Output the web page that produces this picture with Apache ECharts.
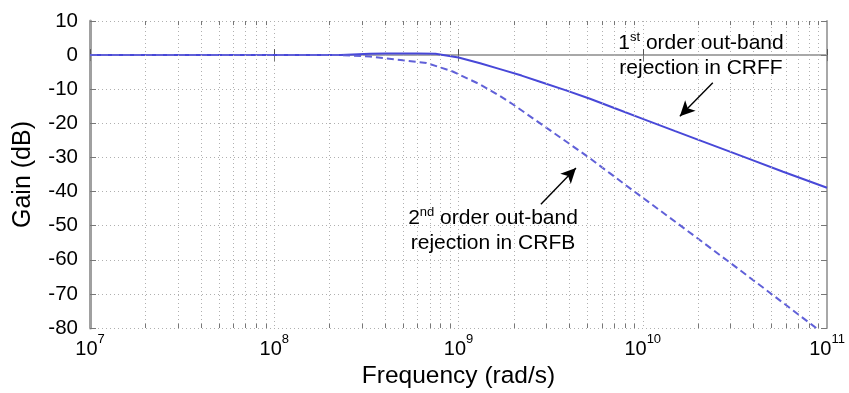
<!DOCTYPE html>
<html>
<head>
<meta charset="utf-8">
<script src="https://cdn.jsdelivr.net/npm/echarts@6/dist/echarts.min.js"></script>
<style>
html,body{margin:0;padding:0;background:#fff;}
#c{width:849px;height:393px;}
</style>
</head>
<body>
<div id="c"></div>
<script>
// ---- data ----
const freqSolid = [1e7, 2.3e8, 3.3e8, 4e8, 6e8, 7.5e8, 1e9, 1.31e9, 1.68e9, 2.2e9, 2.77e9, 3.87e9, 5.17e9, 7e9, 1e10, 1.5e10, 2.04e10, 2.97e10, 3.81e10, 5.78e10, 1e11];
const gainSolid = [0, 0, 0.4, 0.5, 0.5, 0.4, -0.7, -2.4, -4.1, -6.0, -7.8, -10.4, -12.8, -15.5, -18.7, -22.3, -25.0, -28.3, -30.5, -34.2, -38.9];
const freqDashed = [1e7, 2.3e8, 3.3e8, 5e8, 6.7e8, 9.3e8, 1.31e9, 1.68e9, 1.97e9, 3.02e9, 4.98e9, 6.62e9, 8.5e9, 1.35e10, 2.04e10, 3.09e10, 4.69e10, 8.4e10, 8.8e10];
const gainDashed = [0, 0, -0.4, -1.5, -2.3, -4.8, -8.6, -12.0, -14.4, -21.4, -29.6, -34.6, -39.0, -47.0, -54.2, -61.5, -68.9, -79.3, -80.1];
const decades = [1e7, 1e8, 1e9, 1e10, 1e11];
const minorMult = [2, 3, 4, 5, 6, 7, 8, 9];
const yMin = -80, yMax = 10, yStep = 10;
const arrow1 = [[2.4e10, -8.1], [1.59e10, -17.9]];
const arrow2 = [[2.8e9, -43.7], [4.34e9, -33.1]];

const FONT = 'Liberation Sans, Arial, Helvetica, sans-serif';
const gridCol = '#b0b0b0';

const minorVals = [];
for (let d = 0; d < decades.length - 1; d++) {
  for (const m of minorMult) minorVals.push(m * decades[d]);
}
const gridLines = minorVals.map(v => ({xAxis: v}));
const tickLen = 1.2; // dB
const tickLines = [];
for (const v of minorVals) {
  tickLines.push([{coord: [v, yMin]}, {coord: [v, yMin + tickLen]}]);
  tickLines.push([{coord: [v, yMax]}, {coord: [v, yMax - tickLen]}]);
}

const annRich = {
  n: {fontFamily: FONT, fontSize: 21, color: '#000', lineHeight: 25},
  s: {fontFamily: FONT, fontSize: 13, color: '#000', lineHeight: 25, verticalAlign: 'top', padding: [0, 0, 10, 0]}
};

const chart = echarts.init(document.getElementById('c'), null, {renderer: 'canvas'});
chart.setOption({
  animation: false,
  backgroundColor: '#fff',
  grid: {left: 90, right: 22, top: 21, bottom: 65, containLabel: false, outerBoundsMode: 'none'},
  xAxis: [{
    type: 'log', logBase: 10, min: 1e7, max: 1e11, splitNumber: 4,
    name: 'Frequency (rad/s)', nameLocation: 'middle', nameGap: 32,
    nameTextStyle: {fontFamily: FONT, fontSize: 24.5, color: '#000'},
    axisLine: {lineStyle: {color: '#555', width: 1.5}},
    axisTick: {inside: true, length: 6, lineStyle: {color: '#555'}},
    axisLabel: {
      margin: 5,
      formatter: v => '{b|10}{e|' + Math.round(Math.log10(v)) + '}',
      rich: {
        b: {fontFamily: FONT, fontSize: 20, color: '#000', verticalAlign: 'bottom', lineHeight: 26},
        e: {fontFamily: FONT, fontSize: 13, color: '#000', verticalAlign: 'top', lineHeight: 26, padding: [0, 0, 10, 0]}
      }
    },
    splitLine: {show: true, lineStyle: {color: gridCol, type: [1, 3], width: 1}}
  }, {
    type: 'log', logBase: 10, min: 1e7, max: 1e11, splitNumber: 4, position: 'top',
    axisLine: {lineStyle: {color: '#a8a8a8', width: 2}},
    axisTick: {inside: true, length: 6, lineStyle: {color: '#777'}},
    axisLabel: {show: false}, splitLine: {show: false}
  }],
  yAxis: [{
    type: 'value', min: yMin, max: yMax, interval: yStep,
    name: 'Gain (dB)', nameLocation: 'middle', nameGap: 54, nameRotate: 90,
    nameTextStyle: {fontFamily: FONT, fontSize: 25, color: '#000'},
    axisLine: {show: true, lineStyle: {color: '#a0a0a0', width: 3}},
    axisTick: {show: true, inside: true, length: 6, lineStyle: {color: '#777'}},
    axisLabel: {fontFamily: FONT, fontSize: 20.5, color: '#000', margin: 12},
    splitLine: {show: true, lineStyle: {color: gridCol, type: [1, 3], width: 1}}
  }, {
    type: 'value', min: yMin, max: yMax, interval: yStep, position: 'right',
    axisLine: {show: true, lineStyle: {color: '#a8a8a8', width: 2}},
    axisTick: {show: true, inside: true, length: 6, lineStyle: {color: '#777'}},
    axisLabel: {show: false}, splitLine: {show: false}
  }],
  series: [{
    type: 'line', name: 'grid', data: [], silent: true,
    markLine: {
      silent: true, symbol: ['none', 'none'], label: {show: false},
      lineStyle: {color: gridCol, type: [1, 3], width: 1},
      data: gridLines, animation: false
    }
  }, {
    type: 'line', name: 'ticks', data: [], silent: true,
    markLine: {
      silent: true, symbol: ['none', 'none'], label: {show: false},
      lineStyle: {color: '#777', type: 'solid', width: 1},
      data: tickLines, animation: false
    }
  }, {
    type: 'line', name: 'CRFF', showSymbol: false, symbol: 'none', smooth: false,
    data: freqSolid.map((f, i) => [f, gainSolid[i]]),
    lineStyle: {color: '#4848d8', width: 2},
    markLine: {
      silent: true, symbol: ['none', 'arrow'], symbolSize: [11, 15], label: {show: false},
      lineStyle: {color: '#000', type: 'solid', width: 1.4},
      itemStyle: {color: '#000'},
      data: [[{coord: arrow1[0]}, {coord: arrow1[1]}], [{coord: arrow2[0]}, {coord: arrow2[1]}]]
    }
  }, {
    type: 'line', name: 'CRFB', showSymbol: false, symbol: 'none', smooth: false,
    data: freqDashed.map((f, i) => [f, gainDashed[i]]),
    lineStyle: {color: '#6060d8', width: 2, type: [7, 4]},
    clip: true
  }],
  graphic: [{
    type: 'text', x: 701, y: 31, z: 100,
    style: {
      text: '{n|1}{s|st}{n| order out-band}\n{n|rejection in CRFF}',
      align: 'center', verticalAlign: 'top', rich: annRich
    }
  }, {
    type: 'text', x: 493, y: 206, z: 100,
    style: {
      text: '{n|2}{s|nd}{n| order out-band}\n{n|rejection in CRFB}',
      align: 'center', verticalAlign: 'top', rich: annRich
    }
  }]
});
</script>
</body>
</html>
